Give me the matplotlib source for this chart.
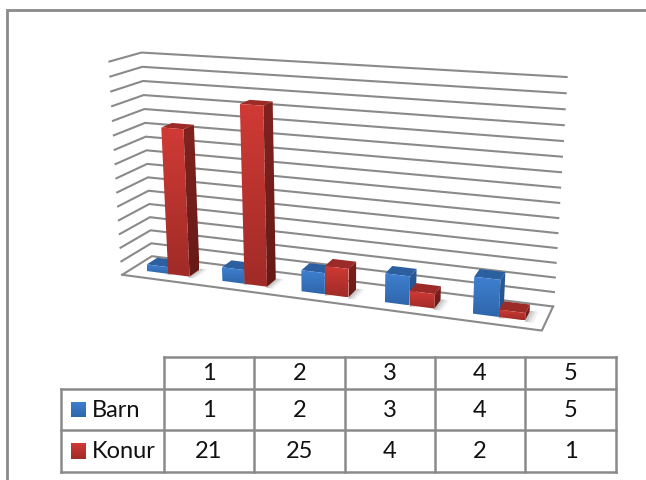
import numpy as np
import matplotlib
matplotlib.use('Agg')
import matplotlib.pyplot as plt
from matplotlib.patches import Polygon
from matplotlib.colors import LinearSegmentedColormap

categories = ['1', '2', '3', '4', '5']
barn = [1, 2, 3, 4, 5]
konur = [21, 25, 4, 2, 1]
axis_ticks = list(range(0, 32, 2))

GRAY = '#8a8a8a'
plt.rcParams['font.family'] = ['Lato', 'DejaVu Sans']

# box corners (along, depth, height) -> where they sit on the canvas
corners_3d = [(0, 0, 0), (1, 0, 0), (0, 1, 0), (1, 1, 0),
              (0, 0, 1), (1, 0, 1), (0, 1, 1), (1, 1, 1)]
corners_px = [(122, 275), (542, 331), (152, 258), (553, 308),
              (109, 62), (556, 92), (142, 54), (566, 76)]


def fit_camera():
    A, b = [], []
    for (x, y, z), (px, py) in zip(corners_3d, corners_px):
        A.append([x, y, z, 1, 0, 0, 0, 0, -px * x, -px * y, -px * z])
        A.append([0, 0, 0, 0, x, y, z, 1, -py * x, -py * y, -py * z])
        b += [px, py]
    p = np.linalg.lstsq(np.array(A, float), np.array(b, float), rcond=None)[0]
    return np.append(p, 1).reshape(3, 4)


CAM = fit_camera()


def project(u, d, val):
    h = CAM @ np.array([u, d, val / axis_ticks[-1], 1.0])
    return h[0] / h[2], h[1] / h[2]


def gradient_face(ax, pts, top, bottom):
    cmap = LinearSegmentedColormap.from_list('f', [top, bottom])
    pts = np.array(pts)
    poly = Polygon(pts, closed=True, fc='none', ec='none')
    ax.add_patch(poly)
    im = ax.imshow(np.linspace(0, 1, 64).reshape(-1, 1), cmap=cmap, aspect='auto',
                   extent=(pts[:, 0].min(), pts[:, 0].max(), pts[:, 1].max(), pts[:, 1].min()),
                   interpolation='bilinear', zorder=3)
    im.set_clip_path(poly)


def draw_bar(ax, u0, u1, val, front, side, top):
    d0, d1 = 0.30, 0.66
    # soft shadow on the floor
    for grow, alpha in ((0.018, 0.06), (0.012, 0.08), (0.006, 0.10)):
        shadow = [project(u1, d0 - 0.05, 0), project(u1 + grow, d0 - 0.05, 0),
                  project(u1 + grow, d1 + 0.05, 0), project(u1, d1 + 0.05, 0)]
        ax.add_patch(Polygon(shadow, fc='black', ec='none', alpha=alpha, zorder=2))
    gradient_face(ax, [project(u1, d0, val), project(u1, d1, val),
                       project(u1, d1, 0), project(u1, d0, 0)], side[0], side[1])
    ax.add_patch(Polygon([project(u0, d0, val), project(u1, d0, val),
                          project(u1, d1, val), project(u0, d1, val)],
                         fc=top, ec='none', zorder=3))
    gradient_face(ax, [project(u0, d0, val), project(u1, d0, val),
                       project(u1, d0, 0), project(u0, d0, 0)], front[0], front[1])


fig = plt.figure(figsize=(6.46, 4.81), dpi=100)
ax = fig.add_axes([0, 0, 1, 1])

# walls and floor
for t in axis_ticks:
    pts = [project(0, 0, t), project(0, 1, t), project(1, 1, t)]
    ax.plot(*zip(*pts), color=GRAY, lw=1.5, zorder=1, solid_joinstyle='miter')
floor = [project(0, 0, 0), project(1, 0, 0), project(1, 1, 0)]
ax.plot(*zip(*floor), color=GRAY, lw=1.5, zorder=1)

BLUE = dict(front=('#3f80d0', '#2f66ab'), side=('#2b5c9c', '#234d84'), top='#2c5f9f')
RED = dict(front=('#d03a35', '#a02b27'), side=('#80231f', '#661a17'), top='#9c2a26')
bar_w = 0.057
for i in range(len(categories)):
    mid = (i + 0.5) / len(categories)
    draw_bar(ax, mid - bar_w, mid, barn[i], **BLUE)
    draw_bar(ax, mid, mid + bar_w, konur[i], **RED)

# outer chart frame
ax.plot([7, 7, 646], [481, 11, 11], color=GRAY, lw=2, zorder=1, solid_joinstyle='miter')

# data table
col_x = [61, 164, 254, 345, 435, 525, 616]
row_y = [358, 390, 431, 473]
for y in row_y:
    ax.plot([col_x[1] if y == row_y[0] else col_x[0], col_x[-1]], [y, y], color=GRAY, lw=1.8, zorder=1)
for x in col_x:
    ax.plot([x, x], [row_y[1] if x == col_x[0] else row_y[0], row_y[-1]], color=GRAY, lw=1.8, zorder=1)

TXT = dict(fontsize=17, color='#111111', ha='center', va='center')
for i, cat in enumerate(categories):
    cx = (col_x[i + 1] + col_x[i + 2]) / 2
    ax.text(cx, (row_y[0] + row_y[1]) / 2, cat, **TXT)
    ax.text(cx, (row_y[1] + row_y[2]) / 2, str(barn[i]), **TXT)
    ax.text(cx, (row_y[2] + row_y[3]) / 2, str(konur[i]), **TXT)

for r, (name, style) in enumerate((('Barn', BLUE), ('Konur', RED))):
    cy = (row_y[r + 1] + row_y[r + 2]) / 2
    gradient_face(ax, [(71, cy - 8), (86, cy - 8), (86, cy + 8), (71, cy + 8)],
                  style['front'][0], style['front'][1])
    ax.text(92, cy, name, fontsize=17, color='#111111', ha='left', va='center')

ax.set_xlim(0, 646)
ax.set_ylim(481, 0)
ax.axis('off')
fig.savefig('out.png', dpi=100, facecolor='white')
